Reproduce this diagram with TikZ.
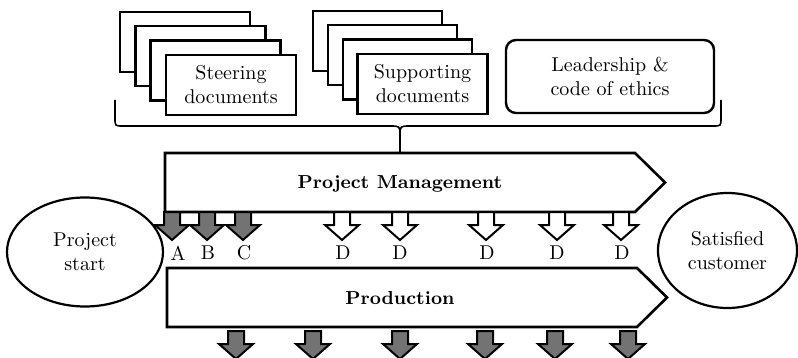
\documentclass[tikz,border=0pt]{standalone}
\usetikzlibrary{positioning,shapes.geometric}
\tikzset{
  dnarrow/.pic={\draw[line width=1pt,pic actions] (-8,0) -- (-8,13) -- (-17,13)
    -- (0,28) -- (17,13) -- (8,13) -- (8,0) -- cycle;},
}
\begin{document}
\begin{tikzpicture}[x=0.5pt,y=-0.5pt,
  pageline/.style={draw,line width=1.2pt,fill=white},
  page/.style={pageline,minimum width=65pt,minimum height=30pt,align=center,inner sep=0pt},
  bar/.style={draw,line width=1.3pt,fill=white},
  bartext/.style={font=\fontsize{9.4}{11}\selectfont\bfseries},
  goal/.style={draw,line width=1.1pt,ellipse,align=center,inner sep=0pt}]
\useasboundingbox (0,0) rectangle (798,358);
% document stacks
\foreach \k in {0,1,2}
  \draw[pageline] ({120+15.3*\k},{12+14.3*\k}) rectangle +(130,60);
\node[page] (steer) at (231,85) {Steering\\documents};
\foreach \k in {0,1,2}
  \draw[pageline] ({313+15*\k},{11+14.3*\k}) rectangle +(129,60);
\node[page] (supp) at (422.5,84) {Supporting\\documents};
\node[page,rounded corners=5pt,minimum width=104pt,minimum height=36.5pt]
  (lead) at (610,76.5) {Leadership \&\\code of ethics};
% brace
\coordinate (bl) at (115,100);
\coordinate (br) at (721,100);
\coordinate (tip) at (400,153);
\draw[line width=0.8pt] (bl) -- (115,118) .. controls (115,126) .. (123,126)
  -- (390,126) .. controls (400,126) .. (400,136) -- (tip);
\draw[line width=0.8pt] (br) -- (721,118) .. controls (721,126) .. (713,126)
  -- (410,126) .. controls (400,126) .. (400,136);
% start and goal
\node[goal,minimum width=78pt,minimum height=54.5pt] (start) at (85,252) {Project\\start};
\node[goal,minimum width=69.5pt,minimum height=57.5pt] (cust) at (727.5,250.5) {Satisfied\\customer};
% the two process arrows
\draw[bar] (165,153) -- (635,153) -- (665,182.5) -- (635,212) -- (165,212) -- cycle;
\node[bartext] (pm) at (400,184) {Project Management};
\draw[bar] (167,268) -- (637,268) -- (667,297.5) -- (637,327) -- (167,327) -- cycle;
\node[bartext] (prod) at (400,298) {Production};
% deliverables
\foreach \x in {172,207,243}
  \pic[fill=black!55] at (\x,212) {dnarrow};
\foreach \x in {342,400,486,557,621}
  \pic[fill=white] at (\x,212) {dnarrow};
\foreach \x/\l [count=\i] in {178/A,208/B,244/C,343/D,400/D,487/D,557/D,622/D}
  \node (lbl\i) at (\x,253) {\l};
\foreach \x in {236,313,400,485,555,628}
  \pic[fill=black!55] at (\x,331) {dnarrow};
\end{tikzpicture}
\end{document}
